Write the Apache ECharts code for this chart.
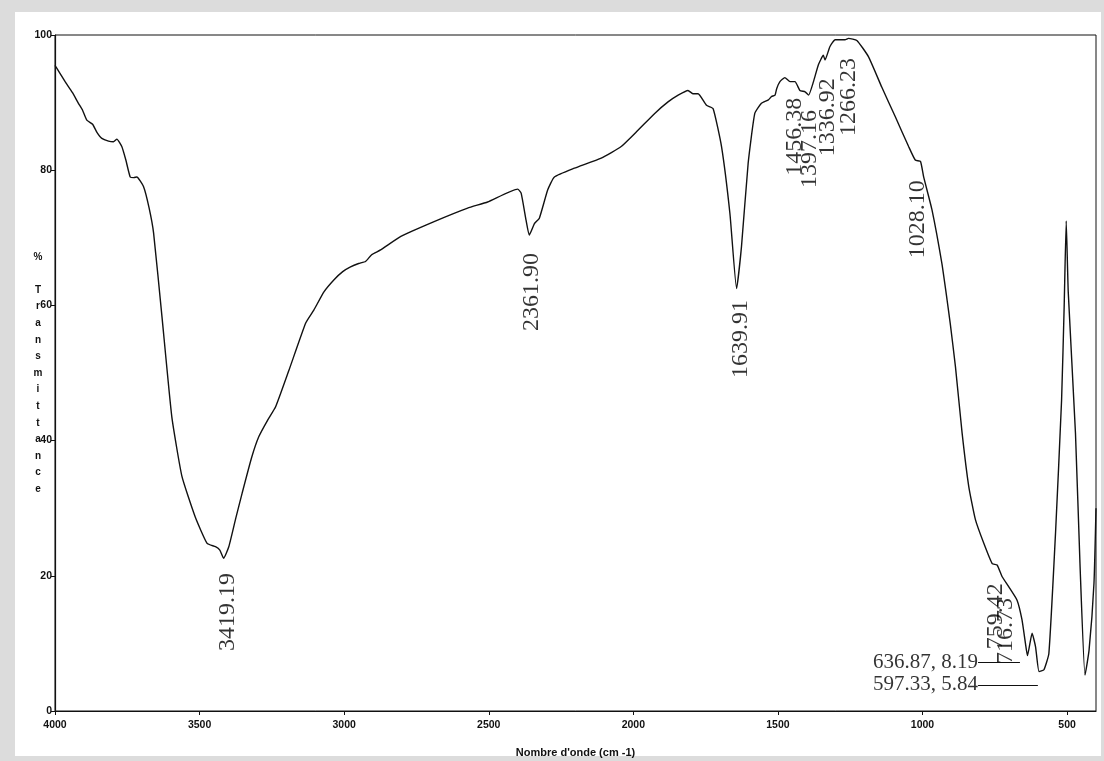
<!DOCTYPE html>
<html>
<head>
<meta charset="utf-8">
<script src="https://cdn.jsdelivr.net/npm/echarts@6/dist/echarts.min.js"></script>
<style>
html,body{margin:0;padding:0;background:#dcdcdc;}
#chart{width:1104px;height:761px;}
</style>
</head>
<body>
<div id="chart"></div>
<script>
// Wavenumbers (cm-1) and % transmittance
const wavenumbers = [4000,3994,3965,3940,3919,3905,3890,3870,3855,3838,3815,3798,3786,3769,3755,3740,3728,3717,3694,3675,3659,3630,3596,3561,3515,3474,3445,3430,3417,3399,3375,3353,3320,3295,3265,3237,3191,3133,3105,3070,3035,3005,2978,2950,2926,2905,2874,2804,2689,2573,2504,2400,2388,2371,2360,2342,2325,2296,2273,2204,2111,2042,1984,1926,1880,1845,1811,1793,1776,1747,1724,1695,1666,1643,1626,1603,1580,1557,1533,1522,1510,1504,1493,1476,1458,1441,1424,1406,1394,1377,1360,1343,1337,1320,1302,1268,1256,1227,1187,1141,1094,1048,1025,1007,996,967,933,915,904,886,863,840,817,788,759,742,725,702,673,656,644,637,621,609,597,580,563,540,519,510,503,496,471,455,438,424,407,400];
const transmittance = [95.5,95.1,93.1,91.5,89.9,88.9,87.4,86.8,85.6,84.7,84.3,84.2,84.6,83.5,81.5,79.0,78.9,79.0,77.6,74.5,70.7,58.3,43.5,34.7,28.7,24.8,24.3,23.8,22.6,24.3,28.5,32.2,37.5,40.6,43.0,45.0,50.4,57.4,59.3,62.0,63.8,65.0,65.7,66.2,66.5,67.5,68.2,70.2,72.4,74.4,75.3,77.2,76.6,72.6,70.4,72.1,72.9,77.1,79.0,80.3,81.8,83.5,85.9,88.4,90.1,91.1,91.8,91.3,91.3,89.6,89.1,83.5,73.6,62.5,68.7,81.0,88.4,89.9,90.4,90.9,91.1,92.1,93.1,93.7,93.1,93.1,91.8,91.6,91.1,93.1,95.6,97.0,96.3,98.3,99.3,99.3,99.5,99.2,96.8,92.3,87.9,83.5,81.5,81.3,79.0,74.1,66.2,60.8,57.3,50.9,41.1,33.2,28.3,24.8,21.8,21.6,19.9,18.4,16.4,13.5,10.0,8.19,11.5,9.5,5.84,6.1,8.5,26.3,46.0,60.0,72.5,62.0,41.1,21.3,5.3,9.0,18.9,30.0];

// Peak annotations (vertical): text, anchor wavenumber, anchor transmittance (top of text)
const vLabelTexts = ["3419.19","2361.90","1639.91","1456.38","1397.16","1336.92","1266.23","1028.10","759.42","716.73"];
const vLabelX = [3402,2351,1628,1441,1389,1327,1254,1016,746,711];
const vLabelY = [20.4,67.75,60.8,90.7,88.9,93.6,96.6,78.5,18.9,16.7];

// Peak annotations (horizontal with leader line): text, right end of text, line end
const hLabelTexts = ["636.87, 8.19","597.33, 5.84"];
const hLabelX = [808,808];
const hLabelY = [7.25,3.85];
const hLineEndX = [663,601];

const xTicks = [4000,3500,3000,2500,2000,1500,1000,500];
const yTicks = [0,20,40,60,80,100];

const spectrum = wavenumbers.map((w,i)=>[w,transmittance[i]]);
const vLabels = vLabelTexts.map((t,i)=>({name:t,value:[vLabelX[i],vLabelY[i]]}));
const hLabels = hLabelTexts.map((t,i)=>({name:t,value:[hLabelX[i],hLabelY[i]]}));
const leaders = hLabelTexts.map((t,i)=>[{coord:[hLabelX[i],hLabelY[i]]},{coord:[hLineEndX[i],hLabelY[i]]}]);

const chart = echarts.init(document.getElementById('chart'), null, {renderer:'canvas'});
const axisFont = {fontFamily:'Liberation Sans, Arial, sans-serif', fontWeight:'bold', fontSize:10.5, color:'#111'};
chart.setOption({
  backgroundColor:'#dcdcdc',
  animation:false,
  graphic:[{type:'rect', shape:{x:15,y:12,width:1086,height:744}, style:{fill:'#ffffff'}, z:-10}],
  grid:{left:55,right:8,top:35,bottom:50,outerBoundsMode:'none',show:true,borderColor:'#111',borderWidth:1,backgroundColor:'transparent'},
  xAxis:{
    type:'value', inverse:true, min:400, max:4000,
    axisLine:{show:true,lineStyle:{color:'#111',width:1.2}},
    axisTick:{show:true,length:4,lineStyle:{color:'#111'},customValues:xTicks},
    axisLabel:Object.assign({margin:9,customValues:xTicks,formatter:v=>String(v)},axisFont),
    splitLine:{show:false},
    name:"Nombre d'onde (cm -1)", nameLocation:'middle', nameGap:36, nameMoveOverlap:false,
    nameTextStyle:{fontFamily:'Liberation Sans, Arial, sans-serif',fontWeight:'bold',fontSize:11,color:'#111'}
  },
  yAxis:{
    type:'value', min:0, max:100, interval:20,
    axisLine:{show:true,lineStyle:{color:'#111',width:1.2}},
    axisTick:{show:true,length:4,lineStyle:{color:'#111'}},
    axisLabel:Object.assign({margin:3},axisFont),
    splitLine:{show:false},
    name:'%\n\nT\nr\na\nn\ns\nm\ni\nt\nt\na\nn\nc\ne', nameLocation:'middle', nameRotate:0, nameGap:17, nameMoveOverlap:false,
    nameTextStyle:{fontFamily:'Liberation Sans, Arial, sans-serif',fontWeight:'bold',fontSize:10,color:'#111',lineHeight:16.6,align:'center',padding:[0,0,17,0]}
  },
  series:[
    {type:'line', data:spectrum, showSymbol:false, symbol:'none', smooth:0.15,
     lineStyle:{color:'#111',width:1.4}, z:3},
    {type:'scatter', data:vLabels, symbolSize:0, z:4,
     label:{show:true, position:'inside', rotate:90, align:'right', verticalAlign:'middle',
       formatter:p=>p.name, fontFamily:'Liberation Serif, Times New Roman, serif', fontSize:24, color:'#000'}},
    {type:'scatter', data:hLabels, symbolSize:0, z:4,
     label:{show:true, position:'inside', align:'right', verticalAlign:'middle',
       formatter:p=>p.name, fontFamily:'Liberation Serif, Times New Roman, serif', fontSize:21, color:'#000'},
     markLine:{silent:true, symbol:'none', label:{show:false}, lineStyle:{color:'#111',width:1,type:'solid'}, data:leaders}}
  ]
});
</script>
</body>
</html>
